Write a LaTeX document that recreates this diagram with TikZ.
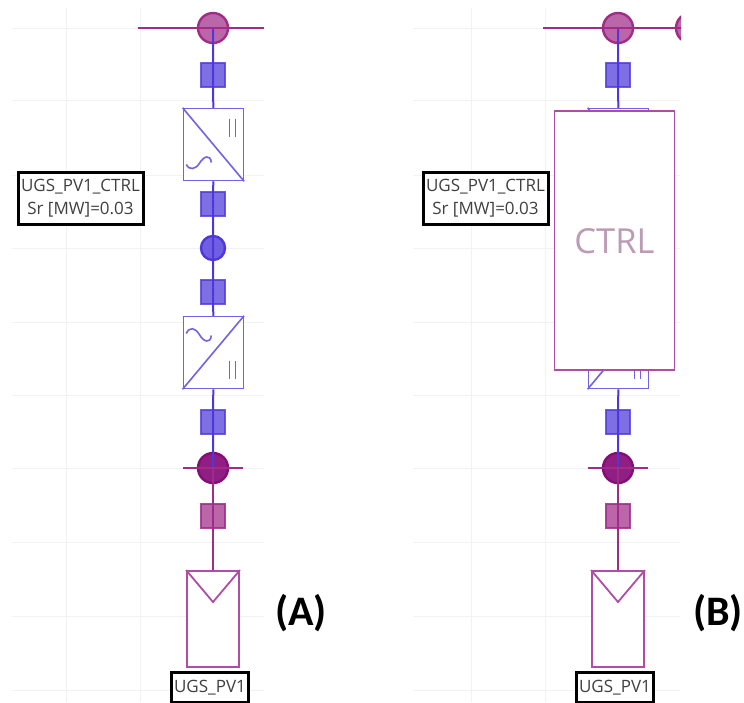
\documentclass[tikz,border=0pt]{standalone}
\usepackage{fontspec}
\setmainfont{Open Sans}
\newfontfamily\headfont{Carlito}
\definecolor{wireblue}{HTML}{4E38DC}
\definecolor{boxblue}{HTML}{7262E6}
\definecolor{busmag}{HTML}{A02C88}
\definecolor{boxmag}{HTML}{B04CA4}
\definecolor{darkmag}{HTML}{860C78}
\definecolor{gridgrey}{HTML}{F2F2F2}
\definecolor{ctrlgrey}{HTML}{BC9CB4}
\tikzset{
  gridline/.style={draw=gridgrey,line width=.8pt},
  bluewire/.style={draw=wireblue,line width=2pt},
  magwire/.style={draw=busmag,line width=1.8pt},
  bluesw/.style={rectangle,inner sep=0pt,minimum size=24pt,draw=wireblue,line width=2pt,draw opacity=.8,fill=wireblue,fill opacity=.72},
  magsw/.style={rectangle,inner sep=0pt,minimum size=24pt,draw=busmag,line width=2pt,draw opacity=.85,fill=busmag,fill opacity=.72},
  busdot/.style={circle,inner sep=0pt,minimum size=#1,draw=busmag,line width=2.4pt,fill=busmag,fill opacity=.72},
  darkdot/.style={circle,inner sep=0pt,minimum size=30pt,draw=darkmag,line width=2.4pt,fill=darkmag,fill opacity=.92},
  bluedot/.style={circle,inner sep=0pt,minimum size=24pt,draw=wireblue,line width=2.4pt,fill=wireblue,fill opacity=.8},
  convbox/.style={rectangle,inner sep=0pt,minimum width=60pt,minimum height=72pt,draw=boxblue,line width=1.5pt,fill=white},
  convline/.style={draw=boxblue,line width=1.6pt},
  pvbox/.style={rectangle,inner sep=0pt,minimum width=52pt,minimum height=96pt,draw=boxmag,line width=1.8pt,fill=white},
  pvline/.style={draw=boxmag,line width=1.8pt},
  ctrlbox/.style={rectangle,inner sep=0pt,minimum width=120pt,minimum height=259pt,draw=boxmag,line width=1.5pt,fill=white,text=ctrlgrey,font=\fontsize{34.5}{38}\selectfont},
  tagbox/.style={rectangle,draw=black,line width=3pt,fill=white,inner sep=0pt,text=black!75,align=center,font=\fontsize{17}{23}\selectfont},
  headlabel/.style={inner sep=0pt,text=black,font=\headfont\bfseries\fontsize{42}{46}\selectfont}
}
\newcommand{\feeder}[5]{%
  \foreach \gy in {28,100,175,248,322,395,468,542,616,690}
    \draw[gridline] (#4,\gy) -- (#5,\gy);
  \draw[gridline] (#3-73,8) -- (#3-73,702);
  \draw[gridline] (#3-147,8) -- (#3-147,702);
  \node[busdot=30pt] (#1bus) at (#3,28) {};
  \node[bluesw] (#1sa) at (#3,75) {};
  \node[convbox] (#1ca) at (#3+.3,144.5) {};
  \node[bluesw] (#1sb) at (#3,204) {};
  \node[bluedot] (#1dc) at (#3,248) {};
  \node[bluesw] (#1sc) at (#3,292) {};
  \node[convbox] (#1cb) at (#3+.3,352.5) {};
  \node[bluesw] (#1sd) at (#3,422) {};
  \node[darkdot] (#1bb) at (#3,468) {};
  \node[magsw] (#1se) at (#3,516) {};
  \node[pvbox] (#1pv) at (#3,619) {};
  \draw[bluewire] (#1bus.center) -- (#1sa.center) -- (#1ca.north);
  \draw[bluewire] (#1ca.south) -- (#1sb.center) -- (#1dc.center) -- (#1sc.center) -- (#1cb.north);
  \draw[bluewire] (#1cb.south) -- (#1sd.center) -- (#1bb.center);
  \draw[magwire] (#1bb.center) -- (#1se.center) -- (#1pv.north);
  \draw[convline] (#1ca.north west) -- (#1ca.south east);
  \draw[convline] (#1cb.south west) -- (#1cb.north east);
  \draw[convline] ([shift={(16,-26)}]#1ca.center) -- ([shift={(16,-8)}]#1ca.center);
  \draw[convline] ([shift={(22,-26)}]#1ca.center) -- ([shift={(22,-8)}]#1ca.center);
  \draw[convline] ([shift={(16,8)}]#1cb.center) -- ([shift={(16,26)}]#1cb.center);
  \draw[convline] ([shift={(22,8)}]#1cb.center) -- ([shift={(22,26)}]#1cb.center);
  \draw[convline] ([shift={(-27,20)}]#1ca.center) .. controls ([shift={(-24,26)}]#1ca.center) and ([shift={(-18,25)}]#1ca.center) .. ([shift={(-14,19)}]#1ca.center) .. controls ([shift={(-10,12)}]#1ca.center) and ([shift={(-3,9)}]#1ca.center) .. ([shift={(-2,18)}]#1ca.center);
  \draw[convline] ([shift={(-27,-19)}]#1cb.center) .. controls ([shift={(-24,-26)}]#1cb.center) and ([shift={(-18,-25)}]#1cb.center) .. ([shift={(-14,-18)}]#1cb.center) .. controls ([shift={(-10,-11)}]#1cb.center) and ([shift={(-3,-8)}]#1cb.center) .. ([shift={(-2,-17)}]#1cb.center);
  \coordinate (#1apex) at (#3,602);
  \draw[pvline] (#1pv.north west) -- (#1apex) -- (#1pv.north east);
  \coordinate (#1hl) at (#3-30,468);
  \coordinate (#1hr) at (#3+30,468);
  \draw[magwire] (#1hl) -- (#1bb.center) -- (#1hr);
  \node[tagbox,minimum width=77pt,minimum height=30pt] (#1pvtag) at (#3-3,687.5) {UGS\_PV1};
  \node[tagbox,minimum width=125pt,minimum height=52pt] (#1tag) at (#2,198.5) {UGS\_PV1\_CTRL\\Sr [MW]=0.03};
}
\begin{document}
\begin{tikzpicture}[x=1pt,y=-1pt]
\useasboundingbox (0,0) rectangle (744,702);
\fill[white] (0,0) rectangle (744,702);
\feeder{l}{80.5}{213}{12}{264}
\coordinate (lbw) at (138,28);
\coordinate (lbe) at (264,28);
\draw[magwire,line width=2.6pt] (lbw) -- (lbus.center) -- (lbe);
\feeder{r}{485.5}{618}{413}{680}
\begin{scope}
\clip (530,0) rectangle (681,60);
\node[busdot=30pt] (rnext) at (691,28) {};
\coordinate (rbw) at (543,28);
\draw[magwire,line width=2.6pt] (rbw) -- (rbus.center) -- (rnext.center);
\end{scope}
\node[ctrlbox] (rctrl) at (614.5,240.7) {\raisebox{-2pt}{CTRL}};
\node[headlabel] (hA) at (301,613) {(A)};
\node[headlabel] (hB) at (718,613) {(B)};
\end{tikzpicture}
\end{document}
